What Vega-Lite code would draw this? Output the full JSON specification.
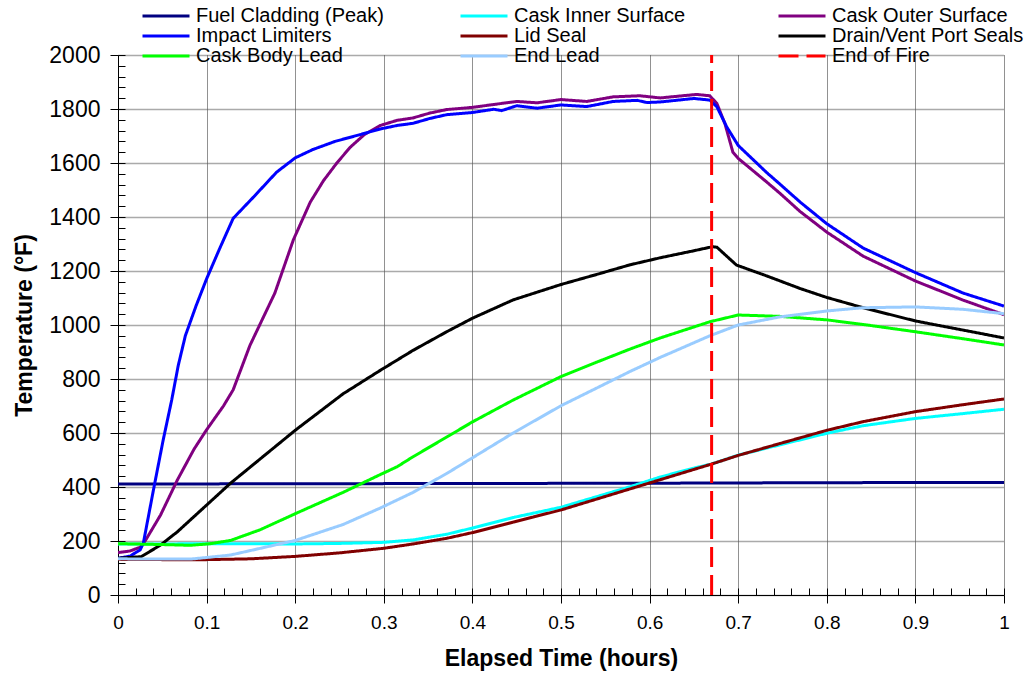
{
  "$schema": "https://vega.github.io/schema/vega-lite/v6.json",
  "width": 886,
  "height": 540,
  "autosize": {"type": "none"},
  "padding": {"left": 118, "top": 55, "right": 23, "bottom": 81},
  "background": "white",
  "config": {
    "font": "Liberation Sans",
    "view": {"stroke": null}
  },
  "data": {
    "values": [
      {"series": "Fuel Cladding (Peak)", "t": 0, "temp": 411},
      {"series": "Fuel Cladding (Peak)", "t": 0.2, "temp": 412},
      {"series": "Fuel Cladding (Peak)", "t": 0.4, "temp": 413},
      {"series": "Fuel Cladding (Peak)", "t": 0.6, "temp": 414},
      {"series": "Fuel Cladding (Peak)", "t": 0.8, "temp": 416},
      {"series": "Fuel Cladding (Peak)", "t": 1.0, "temp": 417},

      {"series": "Cask Inner Surface", "t": 0, "temp": 189},
      {"series": "Cask Inner Surface", "t": 0.05, "temp": 189},
      {"series": "Cask Inner Surface", "t": 0.1, "temp": 190},
      {"series": "Cask Inner Surface", "t": 0.15, "temp": 190},
      {"series": "Cask Inner Surface", "t": 0.2, "temp": 189},
      {"series": "Cask Inner Surface", "t": 0.25, "temp": 191},
      {"series": "Cask Inner Surface", "t": 0.3, "temp": 195},
      {"series": "Cask Inner Surface", "t": 0.333, "temp": 204},
      {"series": "Cask Inner Surface", "t": 0.371, "temp": 225},
      {"series": "Cask Inner Surface", "t": 0.4, "temp": 248},
      {"series": "Cask Inner Surface", "t": 0.446, "temp": 287},
      {"series": "Cask Inner Surface", "t": 0.5, "temp": 325},
      {"series": "Cask Inner Surface", "t": 0.54, "temp": 364},
      {"series": "Cask Inner Surface", "t": 0.578, "temp": 401},
      {"series": "Cask Inner Surface", "t": 0.612, "temp": 437},
      {"series": "Cask Inner Surface", "t": 0.65, "temp": 470},
      {"series": "Cask Inner Surface", "t": 0.67, "temp": 485},
      {"series": "Cask Inner Surface", "t": 0.7, "temp": 518},
      {"series": "Cask Inner Surface", "t": 0.747, "temp": 556},
      {"series": "Cask Inner Surface", "t": 0.8, "temp": 599},
      {"series": "Cask Inner Surface", "t": 0.841, "temp": 627},
      {"series": "Cask Inner Surface", "t": 0.9, "temp": 654},
      {"series": "Cask Inner Surface", "t": 0.954, "temp": 672},
      {"series": "Cask Inner Surface", "t": 1.0, "temp": 688},

      {"series": "Cask Outer Surface", "t": 0, "temp": 157},
      {"series": "Cask Outer Surface", "t": 0.0135, "temp": 163},
      {"series": "Cask Outer Surface", "t": 0.025, "temp": 177},
      {"series": "Cask Outer Surface", "t": 0.0286, "temp": 189},
      {"series": "Cask Outer Surface", "t": 0.048, "temp": 296},
      {"series": "Cask Outer Surface", "t": 0.067, "temp": 426},
      {"series": "Cask Outer Surface", "t": 0.0858, "temp": 540},
      {"series": "Cask Outer Surface", "t": 0.1, "temp": 612},
      {"series": "Cask Outer Surface", "t": 0.119, "temp": 700},
      {"series": "Cask Outer Surface", "t": 0.13, "temp": 760},
      {"series": "Cask Outer Surface", "t": 0.149, "temp": 925},
      {"series": "Cask Outer Surface", "t": 0.177, "temp": 1118},
      {"series": "Cask Outer Surface", "t": 0.198, "temp": 1316},
      {"series": "Cask Outer Surface", "t": 0.217, "temp": 1455},
      {"series": "Cask Outer Surface", "t": 0.232, "temp": 1535},
      {"series": "Cask Outer Surface", "t": 0.247, "temp": 1600},
      {"series": "Cask Outer Surface", "t": 0.262, "temp": 1658},
      {"series": "Cask Outer Surface", "t": 0.278, "temp": 1705},
      {"series": "Cask Outer Surface", "t": 0.296, "temp": 1739},
      {"series": "Cask Outer Surface", "t": 0.315, "temp": 1758},
      {"series": "Cask Outer Surface", "t": 0.333, "temp": 1767},
      {"series": "Cask Outer Surface", "t": 0.352, "temp": 1785},
      {"series": "Cask Outer Surface", "t": 0.371, "temp": 1798},
      {"series": "Cask Outer Surface", "t": 0.4, "temp": 1806},
      {"series": "Cask Outer Surface", "t": 0.427, "temp": 1818},
      {"series": "Cask Outer Surface", "t": 0.45, "temp": 1828},
      {"series": "Cask Outer Surface", "t": 0.473, "temp": 1823},
      {"series": "Cask Outer Surface", "t": 0.5, "temp": 1835},
      {"series": "Cask Outer Surface", "t": 0.529, "temp": 1828},
      {"series": "Cask Outer Surface", "t": 0.559, "temp": 1845},
      {"series": "Cask Outer Surface", "t": 0.589, "temp": 1849},
      {"series": "Cask Outer Surface", "t": 0.612, "temp": 1841},
      {"series": "Cask Outer Surface", "t": 0.653, "temp": 1854},
      {"series": "Cask Outer Surface", "t": 0.668, "temp": 1849},
      {"series": "Cask Outer Surface", "t": 0.676, "temp": 1820},
      {"series": "Cask Outer Surface", "t": 0.685, "temp": 1746},
      {"series": "Cask Outer Surface", "t": 0.694, "temp": 1640},
      {"series": "Cask Outer Surface", "t": 0.7, "temp": 1617},
      {"series": "Cask Outer Surface", "t": 0.732, "temp": 1530},
      {"series": "Cask Outer Surface", "t": 0.747, "temp": 1488},
      {"series": "Cask Outer Surface", "t": 0.77, "temp": 1420},
      {"series": "Cask Outer Surface", "t": 0.8, "temp": 1344},
      {"series": "Cask Outer Surface", "t": 0.841, "temp": 1255},
      {"series": "Cask Outer Surface", "t": 0.9, "temp": 1163},
      {"series": "Cask Outer Surface", "t": 0.954, "temp": 1092},
      {"series": "Cask Outer Surface", "t": 1.0, "temp": 1038},

      {"series": "Impact Limiters", "t": 0, "temp": 136},
      {"series": "Impact Limiters", "t": 0.0135, "temp": 144},
      {"series": "Impact Limiters", "t": 0.025, "temp": 167},
      {"series": "Impact Limiters", "t": 0.0286, "temp": 192},
      {"series": "Impact Limiters", "t": 0.04, "temp": 389},
      {"series": "Impact Limiters", "t": 0.051, "temp": 574},
      {"series": "Impact Limiters", "t": 0.0606, "temp": 722},
      {"series": "Impact Limiters", "t": 0.068, "temp": 850},
      {"series": "Impact Limiters", "t": 0.076, "temp": 960},
      {"series": "Impact Limiters", "t": 0.088, "temp": 1070},
      {"series": "Impact Limiters", "t": 0.1, "temp": 1171},
      {"series": "Impact Limiters", "t": 0.115, "temp": 1285},
      {"series": "Impact Limiters", "t": 0.13, "temp": 1395},
      {"series": "Impact Limiters", "t": 0.153, "temp": 1474},
      {"series": "Impact Limiters", "t": 0.179, "temp": 1566},
      {"series": "Impact Limiters", "t": 0.2, "temp": 1619},
      {"series": "Impact Limiters", "t": 0.22, "temp": 1650},
      {"series": "Impact Limiters", "t": 0.245, "temp": 1680},
      {"series": "Impact Limiters", "t": 0.273, "temp": 1705},
      {"series": "Impact Limiters", "t": 0.296, "temp": 1726},
      {"series": "Impact Limiters", "t": 0.315, "temp": 1739},
      {"series": "Impact Limiters", "t": 0.333, "temp": 1747},
      {"series": "Impact Limiters", "t": 0.352, "temp": 1765},
      {"series": "Impact Limiters", "t": 0.371, "temp": 1779},
      {"series": "Impact Limiters", "t": 0.4, "temp": 1787},
      {"series": "Impact Limiters", "t": 0.424, "temp": 1799},
      {"series": "Impact Limiters", "t": 0.433, "temp": 1794},
      {"series": "Impact Limiters", "t": 0.45, "temp": 1812},
      {"series": "Impact Limiters", "t": 0.473, "temp": 1803},
      {"series": "Impact Limiters", "t": 0.5, "temp": 1815},
      {"series": "Impact Limiters", "t": 0.529, "temp": 1809},
      {"series": "Impact Limiters", "t": 0.559, "temp": 1828},
      {"series": "Impact Limiters", "t": 0.586, "temp": 1832},
      {"series": "Impact Limiters", "t": 0.597, "temp": 1824},
      {"series": "Impact Limiters", "t": 0.612, "temp": 1826},
      {"series": "Impact Limiters", "t": 0.65, "temp": 1839},
      {"series": "Impact Limiters", "t": 0.668, "temp": 1833},
      {"series": "Impact Limiters", "t": 0.676, "temp": 1808},
      {"series": "Impact Limiters", "t": 0.687, "temp": 1734},
      {"series": "Impact Limiters", "t": 0.7, "temp": 1665},
      {"series": "Impact Limiters", "t": 0.732, "temp": 1565},
      {"series": "Impact Limiters", "t": 0.747, "temp": 1522},
      {"series": "Impact Limiters", "t": 0.77, "temp": 1455},
      {"series": "Impact Limiters", "t": 0.8, "temp": 1375},
      {"series": "Impact Limiters", "t": 0.841, "temp": 1285},
      {"series": "Impact Limiters", "t": 0.9, "temp": 1194},
      {"series": "Impact Limiters", "t": 0.954, "temp": 1118},
      {"series": "Impact Limiters", "t": 1.0, "temp": 1070},

      {"series": "Lid Seal", "t": 0, "temp": 132},
      {"series": "Lid Seal", "t": 0.05, "temp": 131},
      {"series": "Lid Seal", "t": 0.1, "temp": 131},
      {"series": "Lid Seal", "t": 0.15, "temp": 134},
      {"series": "Lid Seal", "t": 0.2, "temp": 143},
      {"series": "Lid Seal", "t": 0.25, "temp": 156},
      {"series": "Lid Seal", "t": 0.3, "temp": 173},
      {"series": "Lid Seal", "t": 0.333, "temp": 189},
      {"series": "Lid Seal", "t": 0.371, "temp": 210},
      {"series": "Lid Seal", "t": 0.4, "temp": 231},
      {"series": "Lid Seal", "t": 0.446, "temp": 270},
      {"series": "Lid Seal", "t": 0.5, "temp": 315},
      {"series": "Lid Seal", "t": 0.54, "temp": 355},
      {"series": "Lid Seal", "t": 0.578, "temp": 393},
      {"series": "Lid Seal", "t": 0.612, "temp": 427},
      {"series": "Lid Seal", "t": 0.65, "temp": 465},
      {"series": "Lid Seal", "t": 0.67, "temp": 485},
      {"series": "Lid Seal", "t": 0.7, "temp": 517},
      {"series": "Lid Seal", "t": 0.747, "temp": 561},
      {"series": "Lid Seal", "t": 0.8, "temp": 610},
      {"series": "Lid Seal", "t": 0.841, "temp": 642},
      {"series": "Lid Seal", "t": 0.9, "temp": 679},
      {"series": "Lid Seal", "t": 0.954, "temp": 705},
      {"series": "Lid Seal", "t": 1.0, "temp": 726},

      {"series": "Drain/Vent Port Seals", "t": 0, "temp": 136},
      {"series": "Drain/Vent Port Seals", "t": 0.0263, "temp": 142},
      {"series": "Drain/Vent Port Seals", "t": 0.048, "temp": 185},
      {"series": "Drain/Vent Port Seals", "t": 0.067, "temp": 234},
      {"series": "Drain/Vent Port Seals", "t": 0.1, "temp": 333},
      {"series": "Drain/Vent Port Seals", "t": 0.127, "temp": 414},
      {"series": "Drain/Vent Port Seals", "t": 0.2, "temp": 610},
      {"series": "Drain/Vent Port Seals", "t": 0.254, "temp": 745},
      {"series": "Drain/Vent Port Seals", "t": 0.296, "temp": 832},
      {"series": "Drain/Vent Port Seals", "t": 0.333, "temp": 906},
      {"series": "Drain/Vent Port Seals", "t": 0.371, "temp": 975},
      {"series": "Drain/Vent Port Seals", "t": 0.4, "temp": 1025},
      {"series": "Drain/Vent Port Seals", "t": 0.446, "temp": 1093},
      {"series": "Drain/Vent Port Seals", "t": 0.5, "temp": 1150},
      {"series": "Drain/Vent Port Seals", "t": 0.54, "temp": 1187},
      {"series": "Drain/Vent Port Seals", "t": 0.578, "temp": 1223},
      {"series": "Drain/Vent Port Seals", "t": 0.612, "temp": 1249},
      {"series": "Drain/Vent Port Seals", "t": 0.65, "temp": 1275},
      {"series": "Drain/Vent Port Seals", "t": 0.671, "temp": 1290},
      {"series": "Drain/Vent Port Seals", "t": 0.676, "temp": 1288},
      {"series": "Drain/Vent Port Seals", "t": 0.698, "temp": 1222},
      {"series": "Drain/Vent Port Seals", "t": 0.732, "temp": 1182},
      {"series": "Drain/Vent Port Seals", "t": 0.77, "temp": 1135},
      {"series": "Drain/Vent Port Seals", "t": 0.8, "temp": 1102},
      {"series": "Drain/Vent Port Seals", "t": 0.841, "temp": 1064},
      {"series": "Drain/Vent Port Seals", "t": 0.9, "temp": 1015},
      {"series": "Drain/Vent Port Seals", "t": 0.954, "temp": 981},
      {"series": "Drain/Vent Port Seals", "t": 1.0, "temp": 952},

      {"series": "Cask Body Lead", "t": 0, "temp": 190},
      {"series": "Cask Body Lead", "t": 0.048, "temp": 187},
      {"series": "Cask Body Lead", "t": 0.082, "temp": 184},
      {"series": "Cask Body Lead", "t": 0.104, "temp": 190},
      {"series": "Cask Body Lead", "t": 0.127, "temp": 202},
      {"series": "Cask Body Lead", "t": 0.16, "temp": 241},
      {"series": "Cask Body Lead", "t": 0.2, "temp": 301},
      {"series": "Cask Body Lead", "t": 0.254, "temp": 380},
      {"series": "Cask Body Lead", "t": 0.296, "temp": 446},
      {"series": "Cask Body Lead", "t": 0.315, "temp": 475},
      {"series": "Cask Body Lead", "t": 0.333, "temp": 512},
      {"series": "Cask Body Lead", "t": 0.371, "temp": 585},
      {"series": "Cask Body Lead", "t": 0.4, "temp": 641},
      {"series": "Cask Body Lead", "t": 0.446, "temp": 722},
      {"series": "Cask Body Lead", "t": 0.5, "temp": 809},
      {"series": "Cask Body Lead", "t": 0.54, "temp": 862},
      {"series": "Cask Body Lead", "t": 0.578, "temp": 911},
      {"series": "Cask Body Lead", "t": 0.612, "temp": 952},
      {"series": "Cask Body Lead", "t": 0.668, "temp": 1012},
      {"series": "Cask Body Lead", "t": 0.7, "temp": 1037},
      {"series": "Cask Body Lead", "t": 0.747, "temp": 1032},
      {"series": "Cask Body Lead", "t": 0.8, "temp": 1019},
      {"series": "Cask Body Lead", "t": 0.841, "temp": 1002},
      {"series": "Cask Body Lead", "t": 0.9, "temp": 975},
      {"series": "Cask Body Lead", "t": 0.954, "temp": 949},
      {"series": "Cask Body Lead", "t": 1.0, "temp": 926},

      {"series": "End Lead", "t": 0, "temp": 134},
      {"series": "End Lead", "t": 0.05, "temp": 133},
      {"series": "End Lead", "t": 0.082, "temp": 133},
      {"series": "End Lead", "t": 0.127, "temp": 148},
      {"series": "End Lead", "t": 0.2, "temp": 202},
      {"series": "End Lead", "t": 0.254, "temp": 261},
      {"series": "End Lead", "t": 0.296, "temp": 322},
      {"series": "End Lead", "t": 0.333, "temp": 380},
      {"series": "End Lead", "t": 0.371, "temp": 450},
      {"series": "End Lead", "t": 0.4, "temp": 508},
      {"series": "End Lead", "t": 0.446, "temp": 600},
      {"series": "End Lead", "t": 0.5, "temp": 701},
      {"series": "End Lead", "t": 0.54, "temp": 766},
      {"series": "End Lead", "t": 0.578, "temp": 828},
      {"series": "End Lead", "t": 0.612, "temp": 880},
      {"series": "End Lead", "t": 0.668, "temp": 960},
      {"series": "End Lead", "t": 0.7, "temp": 1000},
      {"series": "End Lead", "t": 0.747, "temp": 1030},
      {"series": "End Lead", "t": 0.8, "temp": 1052},
      {"series": "End Lead", "t": 0.841, "temp": 1064},
      {"series": "End Lead", "t": 0.9, "temp": 1067},
      {"series": "End Lead", "t": 0.954, "temp": 1058},
      {"series": "End Lead", "t": 1.0, "temp": 1042},

      {"series": "End of Fire", "t": 0.67, "temp": 0},
      {"series": "End of Fire", "t": 0.67, "temp": 2000}
    ]
  },
  "layer": [
    {
      "mark": {"type": "point", "opacity": 0},
      "encoding": {
        "x": {
          "field": "t", "type": "quantitative",
          "scale": {"domain": [0, 1], "nice": false},
          "axis": {
            "orient": "top", "offset": -540, "title": null, "labels": false, "domain": false, "grid": false,
            "values": [0, 0.02, 0.04, 0.06, 0.08, 0.1, 0.12, 0.14, 0.16, 0.18, 0.2, 0.22, 0.24, 0.26, 0.28, 0.3, 0.32, 0.34, 0.36, 0.38, 0.4, 0.42, 0.44, 0.46, 0.48, 0.5, 0.52, 0.54, 0.56, 0.58, 0.6, 0.62, 0.64, 0.66, 0.68, 0.7, 0.72, 0.74, 0.76, 0.78, 0.8, 0.82, 0.84, 0.86, 0.88, 0.9, 0.92, 0.94, 0.96, 0.98, 1],
            "tickSize": 7, "tickColor": "#000", "tickWidth": 1
          }
        },
        "y": {
          "field": "temp", "type": "quantitative",
          "scale": {"domain": [0, 2000], "nice": false},
          "axis": {
            "orient": "right", "offset": -886, "title": null, "labels": false, "domain": false, "grid": false,
            "values": [0, 40, 80, 120, 160, 200, 240, 280, 320, 360, 400, 440, 480, 520, 560, 600, 640, 680, 720, 760, 800, 840, 880, 920, 960, 1000, 1040, 1080, 1120, 1160, 1200, 1240, 1280, 1320, 1360, 1400, 1440, 1480, 1520, 1560, 1600, 1640, 1680, 1720, 1760, 1800, 1840, 1880, 1920, 1960, 2000],
            "tickSize": 7, "tickColor": "#000", "tickWidth": 1
          }
        }
      }
    },
    {
      "mark": {"type": "line", "strokeWidth": 3, "clip": true},
      "encoding": {
        "x": {
          "field": "t", "type": "quantitative",
          "scale": {"domain": [0, 1], "nice": false},
          "axis": {
            "orient": "bottom",
            "title": "Elapsed Time (hours)",
            "values": [0, 0.1, 0.2, 0.3, 0.4, 0.5, 0.6, 0.7, 0.8, 0.9, 1],
            "format": "~g",
            "labelFont": "Liberation Sans", "labelFontSize": 19, "labelColor": "#000",
            "labelPadding": 10, "labelFlush": false,
            "titleFont": "Liberation Sans", "titleFontSize": 23, "titleFontWeight": "bold", "titleColor": "#000",
            "titlePadding": 15,
            "tickSize": 8, "tickColor": "#000", "tickWidth": 1,
            "domainColor": "#000", "domainWidth": 1,
            "grid": true, "gridColor": "#222", "gridDash": [1, 1], "gridWidth": 1
          }
        },
        "y": {
          "field": "temp", "type": "quantitative",
          "scale": {"domain": [0, 2000], "nice": false},
          "axis": {
            "orient": "left",
            "title": "Temperature (°F)",
            "values": [0, 200, 400, 600, 800, 1000, 1200, 1400, 1600, 1800, 2000],
            "format": "d",
            "labelFont": "Liberation Sans", "labelFontSize": 23, "labelColor": "#000",
            "labelPadding": 10, "labelFlush": false,
            "titleFont": "Liberation Sans", "titleFontSize": 23, "titleFontWeight": "bold", "titleColor": "#000",
            "titlePadding": 12,
            "tickSize": 8, "tickColor": "#000", "tickWidth": 1,
            "domainColor": "#000", "domainWidth": 1,
            "grid": true, "gridColor": "#555", "gridDash": [1, 1], "gridWidth": 1.3
          }
        },
        "color": {
          "field": "series", "type": "nominal",
          "scale": {
            "domain": ["Fuel Cladding (Peak)", "Cask Inner Surface", "Cask Outer Surface", "Impact Limiters", "Lid Seal", "Drain/Vent Port Seals", "Cask Body Lead", "End Lead", "End of Fire"],
            "range": ["#000080", "#00FFFF", "#800080", "#0000FF", "#800000", "#000000", "#00FF00", "#99CCFF", "#FF0000"]
          },
          "legend": {
            "title": null,
            "orient": "none", "legendX": 23, "legendY": -48,
            "direction": "horizontal", "columns": 3, "gridAlign": "all",
            "columnPadding": 71, "rowPadding": 0, "padding": 0, "clipHeight": 18,
            "symbolType": "M-1,0H1", "symbolSize": 2209, "symbolStrokeWidth": 3,
            "labelFont": "Liberation Sans", "labelFontSize": 20, "labelColor": "#000",
            "labelOffset": 5, "labelLimit": 400
          }
        },
        "strokeDash": {
          "field": "series", "type": "nominal",
          "scale": {
            "domain": ["Fuel Cladding (Peak)", "Cask Inner Surface", "Cask Outer Surface", "Impact Limiters", "Lid Seal", "Drain/Vent Port Seals", "Cask Body Lead", "End Lead", "End of Fire"],
            "range": [[1, 0], [1, 0], [1, 0], [1, 0], [1, 0], [1, 0], [1, 0], [1, 0], [20, 8]]
          },
          "legend": {
            "title": null,
            "orient": "none", "legendX": 23, "legendY": -48,
            "direction": "horizontal", "columns": 3, "gridAlign": "all",
            "columnPadding": 71, "rowPadding": 0, "padding": 0, "clipHeight": 18,
            "symbolType": "M-1,0H1", "symbolSize": 2209, "symbolStrokeWidth": 3,
            "labelFont": "Liberation Sans", "labelFontSize": 20, "labelColor": "#000",
            "labelOffset": 5, "labelLimit": 400
          }
        },
        "strokeWidth": {
          "field": "series", "type": "nominal",
          "scale": {
            "domain": ["Fuel Cladding (Peak)", "Cask Inner Surface", "Cask Outer Surface", "Impact Limiters", "Lid Seal", "Drain/Vent Port Seals", "Cask Body Lead", "End Lead", "End of Fire"],
            "range": [3, 3, 3, 3, 3, 3, 3, 3, 4]
          },
          "legend": null
        }
      }
    }
  ],
  "resolve": {"axis": {"x": "independent", "y": "independent"}}
}
